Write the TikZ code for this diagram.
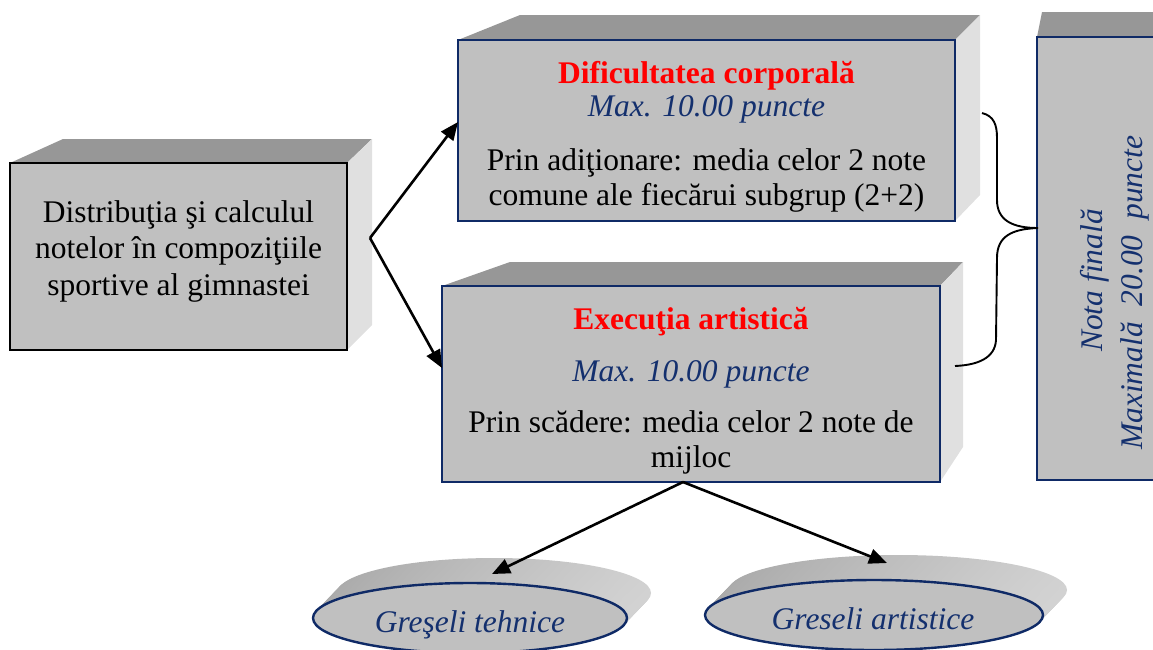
\documentclass[tikz,border=0pt]{standalone}
\usepackage{fontspec}
\setmainfont{Liberation Serif}
\usetikzlibrary{arrows.meta,shapes.geometric,calc}
\definecolor{facegray}{HTML}{C0C0C0}
\definecolor{topgray}{HTML}{979797}
\definecolor{sidegray}{HTML}{E0E0E0}
\definecolor{edgeblue}{HTML}{0F2A66}
\definecolor{inkblue}{HTML}{14306E}
\definecolor{titlered}{HTML}{FF0000}
\definecolor{extL}{HTML}{AAAAAA}
\definecolor{extM}{HTML}{9C9C9C}
\definecolor{extR}{HTML}{D2D2D2}

\begin{document}
\begin{tikzpicture}[x=1pt,y=-1pt,
  font=\fontsize{31.5}{36.7}\selectfont,
  frontface/.style={draw=edgeblue, line width=2.4pt, fill=facegray, inner sep=0pt, outer sep=0pt},
  topface/.style={fill=topgray},
  sideface/.style={fill=sidegray},
  txtline/.style={anchor=base, inner sep=0pt},
  boxtitle/.style={txtline, text=titlered, font=\fontsize{31.5}{36.7}\selectfont\bfseries},
  maxpts/.style={txtline, text=inkblue, font=\fontsize{31.5}{36.7}\selectfont\itshape},
  link/.style={line width=2.6pt, -{Triangle[length=18pt,width=15pt]}},
  extrude/.style={left color=extL, middle color=extM, right color=extR},
  oval/.style={ellipse, draw=edgeblue, line width=2.4pt, fill=facegray, inner sep=0pt, outer sep=0pt},
]
\useasboundingbox (0,0) rectangle (1153,649);
\clip (0,0) rectangle (1153,649);

% ---- left block ----
\fill[topface] (10,163) -- (63,139) -- (372,139) -- (347,163) -- cycle;
\fill[sideface] (347,163) -- (372,139) -- (372,325) -- (347,350) -- cycle;
\node[frontface, draw=black, line width=2.8pt, minimum width=337pt, minimum height=187pt] (leftbox) at (178.5,256.5) {};
\node[align=center, inner sep=0pt] (lefttext) at (178.5,251.3)
  {Distribuţia şi calculul\\notelor în compoziţiile\\sportive al gimnastei};

% ---- upper block ----
\fill[topface] (458,40) -- (520,15) -- (980,15) -- (955,40) -- cycle;
\fill[sideface] (955,40) -- (980,15) -- (980,195) -- (955,221) -- cycle;
\node[frontface, minimum width=497pt, minimum height=181pt] (topbox) at (706.5,130.5) {};
\node[boxtitle] (toptitle) at (706.5,83) {Dificultatea corporală};
\node[maxpts] (topmax) at (706.5,116) {Max. 10.00 puncte};
\node[txtline] (topline1) at (706.5,170) {Prin adiţionare: media celor 2 note};
\node[txtline] (topline2) at (706.5,205) {comune ale fiecărui subgrup (2+2)};

% ---- lower block ----
\fill[topface] (442,286) -- (510,262) -- (963,262) -- (940,286) -- cycle;
\fill[sideface] (940,286) -- (963,262) -- (963,447) -- (940,482) -- cycle;
\node[frontface, minimum width=498pt, minimum height=196pt] (botbox) at (691,384) {};
\node[boxtitle] (bottitle) at (691,329) {Execuţia artistică};
\node[maxpts] (botmax) at (691,381) {Max. 10.00 puncte};
\node[txtline] (botline1) at (691,432) {Prin scădere: media celor 2 note de};
\node[txtline] (botline2) at (691,467) {mijloc};

% ---- final mark block ----
\fill[topface] (1037,37) -- (1042,12) -- (1200,12) -- (1200,37) -- cycle;
\node[frontface, minimum width=163pt, minimum height=443pt] (finalbox) at (1118.5,258.5) {};
\node[maxpts, rotate=90, anchor=base west] (nota) at (1102,352) {Nota finală};
\node[maxpts, rotate=90, anchor=base west] (maxim) at (1142,450) {Maximală\ \ 20.00\ \ puncte};

% ---- brace joining the two marks ----
\draw[line width=1.9pt] (982,113) .. controls (994,116) and (997,125) .. (997,138)
  -- (997,200) .. controls (997,220) and (1012,228) .. (1038,228)
  .. controls (1012,229) and (997,236) .. (997,258)
  -- (996,340) .. controls (995,358) and (978,365) .. (955,366);

% ---- extruded ovals ----
\foreach \t in {0,...,25}
  \shade[extrude] ({494-0.96*\t},{593+\t}) ellipse [x radius=157pt, y radius=35pt];
\node[oval, minimum width=314pt, minimum height=70pt] (e1) at (470,618) {};
\node[maxpts] (e1text) at (470,632) {Greşeli tehnice};

\foreach \t in {0,...,25}
  \shade[extrude] ({898-0.96*\t},{590+\t}) ellipse [x radius=169pt, y radius=35pt];
\node[oval, minimum width=338pt, minimum height=70pt] (e2) at (874,615) {};
\node[maxpts] (e2text) at (873,629) {Greseli artistice};

% ---- connectors ----
\coordinate (split1) at ([xshift=23pt,yshift=18.5pt]leftbox.east);
\draw[link] (split1) -- ([yshift=8.5pt]topbox.west);
\draw[link] (split1) -- ([yshift=16pt]botbox.west);
\coordinate (split2) at ([xshift=-8pt]botbox.south);
\draw[link] (split2) -- ([xshift=22pt,yshift=9pt]e1.north);
\draw[link] (split2) -- ([xshift=13pt,yshift=17pt]e2.north);
\end{tikzpicture}
\end{document}
